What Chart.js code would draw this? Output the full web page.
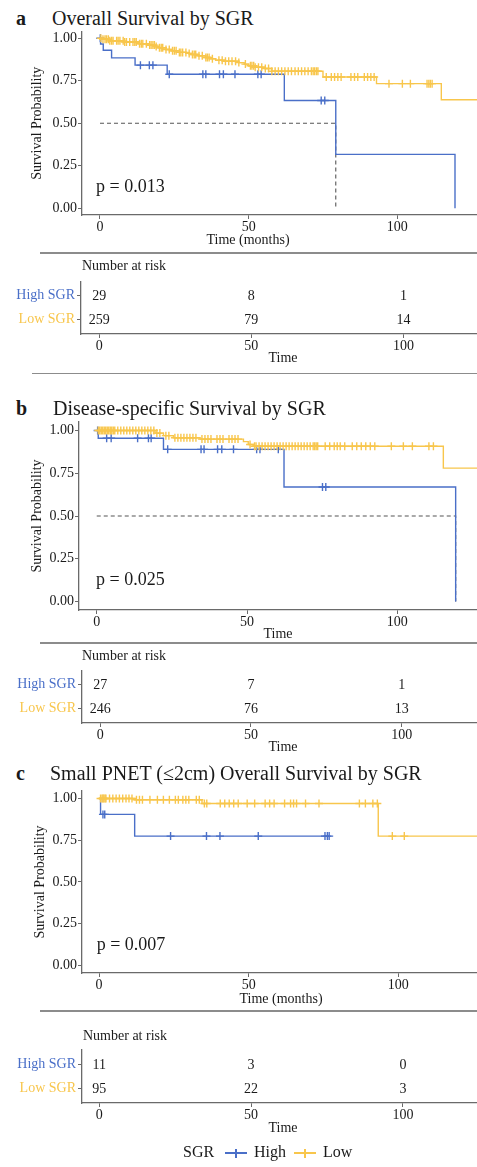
<!DOCTYPE html>
<html>
<head>
<meta charset="utf-8">
<title>Survival by SGR</title>
<script src="https://cdn.jsdelivr.net/npm/chart.js@4.4.1/dist/chart.umd.min.js"></script>
<style>
  body { margin: 0; background: #fff; }
  #fig { position: relative; width: 477px; height: 1167px; overflow: hidden;
         font-family: 'Liberation Serif', 'Times New Roman', serif; color: #1a1a1a; }
  #fig canvas { position: absolute; left: 0; }
  .txt { position: absolute; white-space: nowrap; line-height: 1; }
  .sep { position: absolute; right: 0; height: 1.6px; background: #8c8c8c; }
  .key { position: absolute; }
</style>
</head>
<body>
<div id="fig"></div>
<script>
// ---- data ----
var xTicks = [0, 50, 100];
var yTicks = [0, 0.25, 0.5, 0.75, 1];
var riskTimes = [0, 50, 100];

// a: overall survival
var timeA_high = [0, 0.2, 1.1, 3.9, 11.8, 22.6, 62, 79.3, 119.4];
var survA_high = [1, 0.966, 0.93, 0.885, 0.842, 0.788, 0.634, 0.317, 0];
var censA_high = [0.1, 13.6, 16.6, 17.8, 23.3, 34.6, 35.6, 40.2, 41.5, 45.4, 53.1, 54.2, 74.4, 75.6];
var timeA_low = [0, 1, 3.3, 8, 13.3, 16, 18.9, 20, 22.2, 24, 26.7, 29, 31.1, 33, 35.6, 37, 38.9, 42, 46.7, 48.5, 50, 52, 55.6, 57.8, 75, 93, 114.8, 127];
var survA_low = [1, 0.994, 0.985, 0.978, 0.968, 0.96, 0.952, 0.944, 0.934, 0.926, 0.917, 0.911, 0.905, 0.897, 0.887, 0.88, 0.871, 0.865, 0.857, 0.848, 0.838, 0.83, 0.822, 0.806, 0.772, 0.733, 0.638, 0.638];
var censA_low = [0.3, 1, 1.7, 2.2, 2.8, 3.3, 3.9, 4.4, 5.6, 6.1, 6.7, 7.8, 8.3, 8.9, 10, 11.1, 11.7, 12.2, 13.3, 13.9,
  14.4, 15.6, 16.7, 17.2, 17.8, 18.3, 18.9, 20, 20.6, 21.1, 22.2, 23.3, 24.4, 25, 25.6, 26.7, 27.2, 27.8, 28.9, 30,
  31.1, 31.7, 32.2, 33.3, 34.4, 35.6, 36.1, 36.7, 37.8, 40, 41.1, 42.2, 43.3, 44.4, 45.6, 46.7, 48.9, 50.6, 51.1, 51.7,
  52.2, 53.3, 54.4, 55.6, 56.7, 57.8, 58.9, 60, 61.1, 62.2, 63.3, 64.4, 65.6, 66.7, 67.8, 68.9, 70, 71.1, 71.7, 72.2,
  72.8, 73.3, 76.1, 77.8, 78.9, 80, 81.1, 84.4, 85.6, 86.7, 88.9, 90, 91.1, 92.2, 97.2, 101.7, 104.4, 110, 110.6, 111.1, 111.7];
var medianA = [79.3];
var riskA_high = [29, 8, 1];
var riskA_low = [259, 79, 14];

// b: disease-specific survival
var timeB_high = [0, 0.5, 22.2, 62.3, 119.4];
var survB_high = [1, 0.955, 0.89, 0.67, 0];
var censB_high = [0.3, 3.3, 4.8, 13.6, 17.2, 18.1, 23.6, 34.7, 35.7, 40.2, 41.6, 45.5, 53.2, 54.3, 60.4, 75.1, 76.2];
var timeB_low = [0, 19.4, 22.2, 25.5, 34.4, 48.8, 50.4, 52.1, 115.3, 127];
var survB_low = [1, 0.985, 0.97, 0.958, 0.95, 0.935, 0.918, 0.908, 0.78, 0.78];
var censB_low = [0.5, 1, 1.5, 2, 2.5, 3, 3.5, 4, 4.5, 5, 5.5, 6, 7, 8, 9, 10, 11, 12, 13, 14, 15, 16, 17, 18, 19,
  20, 21, 23, 24, 26, 27, 28, 29, 30, 31, 32, 33, 35, 36, 37, 38, 40, 41, 42, 44, 45, 46, 47,
  51, 52.5, 53, 54, 55, 56, 57, 58, 59, 60, 61, 62, 63, 64, 65, 66, 67, 68, 69, 70, 71, 72, 72.5, 73, 73.5,
  76, 77.5, 79, 80, 81, 82.5, 85, 86.5, 88, 89.5, 91, 92.5, 98, 102, 105, 110.5, 112];
var medianB = [119.4];
var riskB_high = [27, 7, 1];
var riskB_low = [246, 76, 13];

// c: small PNET overall survival
var timeC_high = [0, 0.5, 11.9, 77];
var survC_high = [1, 0.905, 0.775, 0.775];
var censC_high = [1.3, 1.9, 23.9, 35.9, 40.4, 53.2, 75.5, 76.3, 76.9];
var timeC_low = [0, 11.9, 34.4, 93.3, 127];
var survC_low = [1, 0.993, 0.97, 0.775, 0.775];
var censC_low = [0.5, 1, 1.3, 1.6, 2, 2.3, 3.5, 4.6, 5.7, 6.8, 7.9, 9, 10, 11,
  12.5, 13.5, 14.5, 17, 19.5, 21.5, 23.5, 25.5, 26.5, 28, 29, 30, 32.5, 33.5,
  35.2, 36, 40.5, 42, 43.5, 45, 46.5, 49.5, 52, 55.5, 57, 58.5, 62, 64, 65, 66, 69, 73.5, 87, 89, 91.5, 93,
  98, 102];
var riskC_high = [11, 3, 0];
var riskC_low = [95, 22, 3];

// ---- style ----
var BLUE = '#4a6fc8';
var YELLOW = '#f8c64c';
var AXIS = '#6a6a6a';
var INK = '#1a1a1a';
var SERIF = "'Liberation Serif', 'Times New Roman', serif";

Chart.defaults.font.family = SERIF;
Chart.defaults.color = INK;

var fig = document.getElementById('fig');

function text(str, x, baseline, size, opts) {
  opts = opts || {};
  var d = document.createElement('div');
  d.className = 'txt';
  d.textContent = str;
  d.style.fontSize = size + 'px';
  d.style.left = x + 'px';
  d.style.top = (baseline - 0.8375 * size) + 'px';
  if (opts.bold) d.style.fontWeight = 'bold';
  if (opts.color) d.style.color = opts.color;
  if (opts.center) d.style.transform = 'translateX(-50%)';
  fig.appendChild(d);
}

function sep(y, left) {
  var d = document.createElement('div');
  d.className = 'sep';
  d.style.top = y + 'px';
  d.style.left = left + 'px';
  fig.appendChild(d);
}

function canvasAt(top, height) {
  var c = document.createElement('canvas');
  c.width = 477;
  c.height = height;
  c.style.top = top + 'px';
  fig.appendChild(c);
  return c;
}

// value of a step curve at time t
function survAt(times, surv, t) {
  var s = surv[0];
  for (var i = 0; i < times.length; i++) {
    if (times[i] <= t) s = surv[i];
  }
  return s;
}

function stepLine(times, surv, color) {
  return {
    type: 'scatter', showLine: true, stepped: true,
    data: times.map(function (t, i) { return {x: t, y: surv[i]}; }),
    borderColor: color, borderWidth: 1.4, pointRadius: 0, fill: false
  };
}

function censorMarks(cens, times, surv, color) {
  return {
    type: 'scatter',
    data: cens.map(function (t) { return {x: t, y: survAt(times, surv, t)}; }),
    pointStyle: 'cross', pointRadius: 4, borderWidth: 1.4,
    borderColor: color, backgroundColor: color
  };
}

function kmChart(o) {
  var ds = [
    censorMarks(o.censLow, o.timeLow, o.survLow, YELLOW),
    stepLine(o.timeLow, o.survLow, YELLOW),
    censorMarks(o.censHigh, o.timeHigh, o.survHigh, BLUE),
    stepLine(o.timeHigh, o.survHigh, BLUE)
  ];
  if (o.median) {
    ds.push({
      type: 'scatter', showLine: true,
      data: [{x: 0, y: 0.5}, {x: o.median[0], y: 0.5}, {x: o.median[0], y: 0}],
      borderColor: '#555', borderWidth: 1.1, borderDash: [4, 3], pointRadius: 0
    });
  }
  return new Chart(canvasAt(o.top, o.height), {
    type: 'scatter',
    data: {datasets: ds},
    options: {
      responsive: false, animation: false, events: [],
      layout: {autoPadding: false, padding: {top: o.padTop, left: 0, right: 0, bottom: 0}},
      plugins: {legend: {display: false}, tooltip: {enabled: false}},
      scales: {
        x: {
          type: 'linear', min: o.xMin, max: o.xMax,
          afterFit: function (s) { s.height = 35; },
          afterBuildTicks: function (s) { s.ticks = xTicks.map(function (v) { return {value: v}; }); },
          ticks: {font: {size: 14}, color: INK, padding: 0, maxRotation: 0},
          grid: {drawOnChartArea: false, drawTicks: true, tickLength: 4, color: AXIS},
          border: {display: true, color: AXIS, width: 1.3}
        },
        y: {
          type: 'linear', min: o.yMin, max: o.yMax,
          afterFit: function (s) { s.width = o.yWidth; },
          afterBuildTicks: function (s) { s.ticks = yTicks.map(function (v) { return {value: v}; }); },
          ticks: {font: {size: 14}, color: INK, padding: 1, callback: function (v) { return v.toFixed(2); }},
          grid: {drawOnChartArea: false, drawTicks: true, tickLength: 4, color: AXIS},
          border: {display: true, color: AXIS, width: 1.3},
          title: {display: true, text: 'Survival Probability', font: {size: 14}, color: INK,
                  padding: {top: o.titlePad, bottom: 0}}
        }
      }
    }
  });
}

// numbers at risk are drawn at the points the scales give for them
var riskLabels = {
  id: 'riskLabels',
  afterDatasetsDraw: function (chart) {
    var ctx = chart.ctx;
    ctx.save();
    ctx.font = '14px ' + SERIF;
    ctx.fillStyle = INK;
    ctx.textAlign = 'center';
    ctx.textBaseline = 'middle';
    chart.data.datasets.forEach(function (d, i) {
      chart.getDatasetMeta(i).data.forEach(function (el, j) {
        ctx.fillText(String(d.counts[j]), el.x, el.y + 1);
      });
    });
    ctx.restore();
  }
};

function riskChart(o) {
  var rows = [
    {counts: o.high, data: riskTimes.map(function (t) { return {x: t, y: 2}; })},
    {counts: o.low, data: riskTimes.map(function (t) { return {x: t, y: 1}; })}
  ];
  rows.forEach(function (r) { r.pointRadius = 0; });
  return new Chart(canvasAt(o.top, o.height), {
    type: 'scatter',
    data: {datasets: rows},
    plugins: [riskLabels],
    options: {
      responsive: false, animation: false, events: [],
      layout: {autoPadding: false, padding: {top: o.padTop, left: 0, right: 0, bottom: 0}},
      plugins: {legend: {display: false}, tooltip: {enabled: false}},
      scales: {
        x: {
          type: 'linear', min: o.xMin, max: o.xMax,
          afterFit: function (s) { s.height = 25; },
          afterBuildTicks: function (s) { s.ticks = riskTimes.map(function (v) { return {value: v}; }); },
          ticks: {font: {size: 14}, color: INK, padding: 0, maxRotation: 0},
          grid: {drawOnChartArea: false, drawTicks: true, tickLength: 4, color: AXIS},
          border: {display: true, color: AXIS, width: 1.3}
        },
        y: {
          type: 'linear', min: 0.4, max: 2.6,
          afterFit: function (s) { s.width = o.yWidth; },
          afterBuildTicks: function (s) { s.ticks = [{value: 1}, {value: 2}]; },
          ticks: {
            font: {size: 14}, padding: 2,
            color: function (c) { return c.tick && c.tick.value === 2 ? BLUE : YELLOW; },
            callback: function (v) { return v === 2 ? 'High SGR' : 'Low SGR'; }
          },
          grid: {drawOnChartArea: false, drawTicks: true, tickLength: 4, color: AXIS},
          border: {display: true, color: AXIS, width: 1.3}
        }
      }
    }
  });
}

// ---- panel a ----
text('a', 16, 25, 20, {bold: true});
text('Overall Survival by SGR', 52, 25, 20);
kmChart({top: 0, height: 250, padTop: 31.5, yWidth: 82, titlePad: 29,
  xMin: -6.05, xMax: 126.8, yMin: -0.04, yMax: 1.04,
  timeHigh: timeA_high, survHigh: survA_high, censHigh: censA_high,
  timeLow: timeA_low, survLow: survA_low, censLow: censA_low, median: medianA});
text('p = 0.013', 96, 192.5, 18);
text('Time (months)', 248, 245, 14, {center: true});
sep(252, 40);
text('Number at risk', 82, 270.7, 14);
riskChart({top: 271, height: 88, padTop: 10, yWidth: 81, xMin: -6.0, xMax: 124.2,
  high: riskA_high, low: riskA_low});
text('Time', 283, 362.3, 14, {center: true});
sep(372.5, 32);

// ---- panel b ----
text('b', 16, 415, 20, {bold: true});
text('Disease-specific Survival by SGR', 53, 415, 20);
kmChart({top: 380, height: 265, padTop: 42, yWidth: 79, titlePad: 29,
  xMin: -5.9, xMax: 126.5, yMin: -0.05, yMax: 1.05,
  timeHigh: timeB_high, survHigh: survB_high, censHigh: censB_high,
  timeLow: timeB_low, survLow: survB_low, censLow: censB_low, median: medianB});
text('p = 0.025', 96, 585, 18);
text('Time', 278, 638.3, 14, {center: true});
sep(642, 40);
text('Number at risk', 82, 660.7, 14);
riskChart({top: 660, height: 88, padTop: 10, yWidth: 82, xMin: -6.07, xMax: 125,
  high: riskB_high, low: riskB_low});
text('Time', 283, 751.7, 14, {center: true});

// ---- panel c ----
text('c', 16, 780, 20, {bold: true});
text('Small PNET (\u22642cm) Overall Survival by SGR', 50, 780, 20);
kmChart({top: 760, height: 248, padTop: 31, yWidth: 82, titlePad: 32,
  xMin: -5.7, xMax: 126.3, yMin: -0.045, yMax: 1.045,
  timeHigh: timeC_high, survHigh: survC_high, censHigh: censC_high,
  timeLow: timeC_low, survLow: survC_low, censLow: censC_low, median: null});
text('p = 0.007', 96.7, 950, 18);
text('Time (months)', 281, 1003.3, 14, {center: true});
sep(1010, 40);
text('Number at risk', 83, 1040.7, 14);
riskChart({top: 1039, height: 89, padTop: 10, yWidth: 82, xMin: -5.7, xMax: 124.4,
  high: riskC_high, low: riskC_low});
text('Time', 283, 1132.7, 14, {center: true});

// ---- legend ----
function key(x, y, color) {
  var h = document.createElement('div');
  h.className = 'key';
  h.style.cssText = 'left:' + x + 'px;top:' + (y - 0.8) + 'px;width:22px;height:1.6px;background:' + color;
  var v = document.createElement('div');
  v.className = 'key';
  v.style.cssText = 'left:' + (x + 10.2) + 'px;top:' + (y - 4.5) + 'px;width:1.6px;height:9px;background:' + color;
  fig.appendChild(h);
  fig.appendChild(v);
}
text('SGR', 183, 1157.5, 16);
key(225, 1153, BLUE);
text('High', 254, 1157.5, 16);
key(294, 1153, YELLOW);
text('Low', 323, 1157.5, 16);
</script>
</body>
</html>
